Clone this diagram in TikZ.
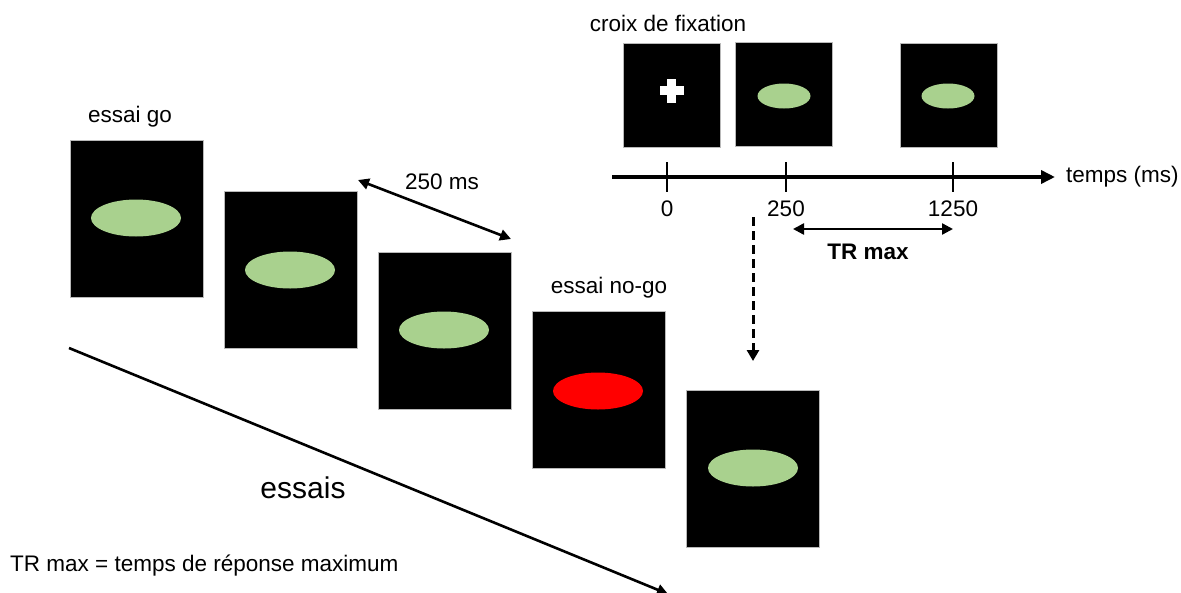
\documentclass[tikz,border=0pt]{standalone}
\usepackage{fontspec}
\setmainfont{Liberation Sans}
\usetikzlibrary{arrows.meta,shapes.geometric}
\definecolor{stimgreen}{RGB}{169,209,142}
\definecolor{stimred}{RGB}{255,0,0}
\begin{document}
\begin{tikzpicture}[x=1pt,y=-1pt,
  screen/.style={fill=black,draw=gray!55,line width=0.8pt,minimum width=133pt,minimum height=157pt,inner sep=0pt,outer sep=0pt},
  smallscreen/.style={fill=black,draw=gray!55,line width=0.8pt,minimum width=97pt,minimum height=104pt,inner sep=0pt,outer sep=0pt},
  bigoval/.style={ellipse,fill=#1,draw=none,minimum width=90pt,minimum height=37pt,inner sep=0pt},
  smalloval/.style={ellipse,fill=stimgreen,draw=none,minimum width=53pt,minimum height=25pt,inner sep=0pt},
  lbl/.style={font=\fontsize{22.5}{26}\selectfont,inner sep=0pt},
  arr/.style={line width=2.6pt,-{Triangle[length=11pt,width=11pt]}},
  darr/.style={line width=2.6pt,{Triangle[length=11pt,width=11pt]}-{Triangle[length=11pt,width=11pt]}}
]
\useasboundingbox (0,0) rectangle (1181,592);

% left trial sequence
\node[screen] (s1) at (136.5,218.5) {};
\node[bigoval=stimgreen] (o1) at (136,218) {};
\node[screen] (s2) at (290.5,270) {};
\node[bigoval=stimgreen] (o2) at (290,270) {};
\node[screen] (s3) at (444.5,330.5) {};
\node[bigoval=stimgreen] (o3) at (444,330) {};
\node[screen] (s4) at (598.5,390) {};
\node[bigoval=stimred] (o4) at (598,391) {};
\node[screen] (s5) at (753,468.5) {};
\node[bigoval=stimgreen] (o5) at (753,468) {};

\node[lbl] (go) at (130,117) {essai go};
\node[lbl] (nogo) at (609,288) {essai no-go};
\node[lbl,font=\fontsize{30}{34}\selectfont] (essais) at (303,488) {essais};
\node[lbl,anchor=west] (legend) at (10,566) {TR max = temps de réponse maximum};

% 250 ms interval
\coordinate (i1) at (358,180);
\coordinate (i2) at (511,239);
\draw[darr] (i1) -- (i2);
\node[lbl] (ms) at (442,182) {250 ms};

% trials axis
\coordinate (t1) at (69,348);
\coordinate (t2) at (668,594);
\draw[arr] (t1) -- (t2);

% top timeline
\node[lbl] (croix) at (668,23) {croix de fixation};
\node[smallscreen] (f1) at (671.5,95) {};
\fill[white] (671.5-12,90.5-4.5) rectangle (671.5+12,90.5+4.5);
\fill[white] (671.5-4.5,90.5-12) rectangle (671.5+4.5,90.5+12);
\node[smallscreen] (f2) at (784,94) {};
\node[smalloval] (g2) at (784,96) {};
\node[smallscreen] (f3) at (948.5,95) {};
\node[smalloval] (g3) at (948,96) {};

\coordinate (a0) at (612,177);
\coordinate (a1) at (1055,177);
\draw[line width=3.6pt,-{Triangle[length=14pt,width=13pt]}] (a0) -- (a1);
\node[lbl,anchor=west] (temps) at (1066,177) {temps (ms)};
\foreach \x/\t/\n in {667/0/k0,786/250/k1,953/1250/k2}{
  \draw[line width=1.5pt] (\x,162) -- (\x,192);
  \node[lbl] (\n) at (\x,209) {\t};
}

\coordinate (r1) at (793,229);
\coordinate (r2) at (953,229);
\draw[darr,line width=2.4pt] (r1) -- (r2);
\node[lbl,font=\fontsize{22.5}{26}\selectfont\bfseries] (trmax) at (868,252) {TR max};

% dashed arrow
\coordinate (d1) at (753,217);
\coordinate (d2) at (753,361);
\draw[line width=3pt,dash pattern=on 9pt off 5pt,-{Triangle[length=11pt,width=12pt]}] (d1) -- (d2);
\end{tikzpicture}
\end{document}
